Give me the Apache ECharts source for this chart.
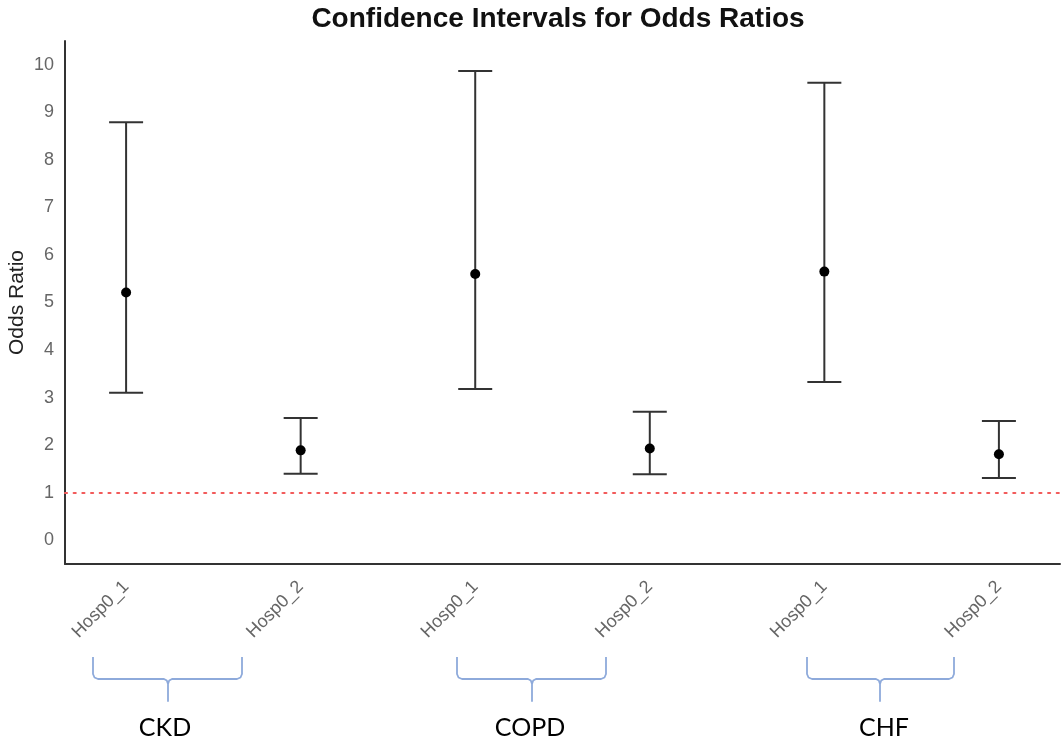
<!DOCTYPE html>
<html>
<head>
	<meta charset="utf-8">
	<title>Confidence Intervals for Odds Ratios</title>
	<script type="text/javascript" src="https://cdn.jsdelivr.net/npm/echarts@6/dist/echarts.min.js"></script>
	<style>
		html, body { margin: 0; padding: 0; background: #fff; }
	</style>
</head>

<body>
	<div style="height: 741px; width: 1064px" id="ci"></div>

	<script type="text/javascript">
		// data
		var labels = ['Hosp0_1', 'Hosp0_2', 'Hosp0_1', 'Hosp0_2', 'Hosp0_1', 'Hosp0_2'];
		var groups = ['CKD', 'COPD', 'CHF'];
		var oddsRatio = [5.21, 1.89, 5.60, 1.93, 5.65, 1.81];
		var lower = [3.10, 1.40, 3.18, 1.39, 3.33, 1.31];
		var upper = [8.79, 2.57, 9.87, 2.70, 9.62, 2.51];
		var refLine = 1;

		function get_points(){
			var lst = []
			for (var i = 0; i < oddsRatio.length; i++){
				lst.push([i + 1, oddsRatio[i]])
			}
			return lst
		}
		function get_bars(){
			var lst = []
			for (var i = 0; i < lower.length; i++){
				lst.push([i + 1, lower[i], upper[i]])
			}
			return lst
		}

		// hand drawn braces under the axis labels (annotation, not data)
		function brace(xl, xr, xc){
			var top = 657, mid = 679, bot = 701;
			return [
				[xl, top], [xl, mid - 5], [xl + 1.5, mid - 1.5], [xl + 5, mid],
				[xc - 4, mid], [xc - 1.2, mid + 1.5], [xc, mid + 5],
				[xc, bot], [xc, mid + 5], [xc + 1.2, mid + 1.5], [xc + 4, mid],
				[xr - 5, mid], [xr - 1.5, mid - 1.5], [xr, mid - 5], [xr, top]
			];
		}
		var braceX = [[93, 242, 168], [457, 606, 532], [807, 954, 880]];
		var groupX = [165, 530, 884];

		var graphics = [];
		for (var g = 0; g < groups.length; g++){
			graphics.push({
				type: 'polyline',
				shape: { points: brace(braceX[g][0], braceX[g][1], braceX[g][2]) },
				style: { fill: null, stroke: '#8eaadb', lineWidth: 1.8, lineJoin: 'round' }
			});
			graphics.push({
				type: 'text',
				x: groupX[g],
				y: 728,
				style: {
					text: groups[g],
					fill: '#000',
					font: '25px Lato',
					textAlign: 'center',
					textVerticalAlign: 'middle'
				}
			});
		}

		var chart = echarts.init(document.getElementById('ci'));
		var option = {
			backgroundColor: '#fff',
			textStyle: { fontFamily: 'Liberation Sans' },
			title: {
				text: 'Confidence Intervals for Odds Ratios',
				left: 558,
				top: 5,
				padding: 0,
				textAlign: 'center',
				textStyle: {
					fontFamily: 'Liberation Sans',
					fontSize: 28,
					fontWeight: 'bold',
					color: '#111'
				}
			},
			grid: {
				left: 65,
				right: 4,
				top: 41,
				bottom: 177,
				containLabel: false,
				outerBoundsMode: 'none'
			},
			xAxis: {
				type: 'value',
				min: 0.65,
				max: 6.35,
				splitNumber: 6,
				splitLine: { show: false },
				axisTick: { show: false },
				axisLine: { show: true, onZero: false, lineStyle: { color: '#333', width: 2 } },
				axisLabel: {
					rotate: 45,
					margin: 20,
					fontSize: 18,
					color: '#666',
					showMinLabel: false,
					showMaxLabel: false,
					formatter: function (v) {
						var i = Math.round(v);
						if (Math.abs(v - i) > 1e-6 || i < 1 || i > labels.length) return '';
						return labels[i - 1];
					}
				}
			},
			yAxis: {
				type: 'value',
				min: -0.5,
				max: 10.5,
				interval: 0.5,
				name: 'Odds Ratio',
				nameLocation: 'middle',
				nameGap: 37,
				nameMoveOverlap: false,
				nameTextStyle: { fontSize: 21, color: '#222' },
				splitLine: { show: false },
				axisTick: { show: false },
				axisLine: { show: true, onZero: false, lineStyle: { color: '#333', width: 2 } },
				axisLabel: {
					margin: 11,
					fontSize: 18,
					color: '#666',
					formatter: function (v) {
						if (Math.abs(v - Math.round(v)) > 1e-6 || v < 0) return '';
						return String(Math.round(v));
					}
				}
			},
			graphic: graphics,
			series: [
				{
					name: 'CI',
					type: 'custom',
					data: get_bars(),
					renderItem: function (params, api) {
						var x = api.value(0);
						var lo = api.coord([x, api.value(1)]);
						var hi = api.coord([x, api.value(2)]);
						var hw = 17;
						var st = { stroke: '#333', lineWidth: 2 };
						return {
							type: 'group',
							children: [
								{ type: 'line', shape: { x1: lo[0], y1: lo[1], x2: hi[0], y2: hi[1] }, style: st },
								{ type: 'line', shape: { x1: hi[0] - hw, y1: hi[1], x2: hi[0] + hw, y2: hi[1] }, style: st },
								{ type: 'line', shape: { x1: lo[0] - hw, y1: lo[1], x2: lo[0] + hw, y2: lo[1] }, style: st }
							]
						};
					},
					z: 2
				},
				{
					name: 'Odds Ratio',
					type: 'scatter',
					data: get_points(),
					symbolSize: 10,
					itemStyle: { color: '#000', opacity: 1 },
					z: 3,
					markLine: {
						silent: true,
						symbol: 'none',
						label: { show: false },
						lineStyle: { color: '#f25a5a', width: 2.2, type: [2, 6.7], cap: 'round' },
						data: [{ yAxis: refLine }]
					}
				}
			]
		};
		chart.setOption(option);
	</script>
</body>
</html>
